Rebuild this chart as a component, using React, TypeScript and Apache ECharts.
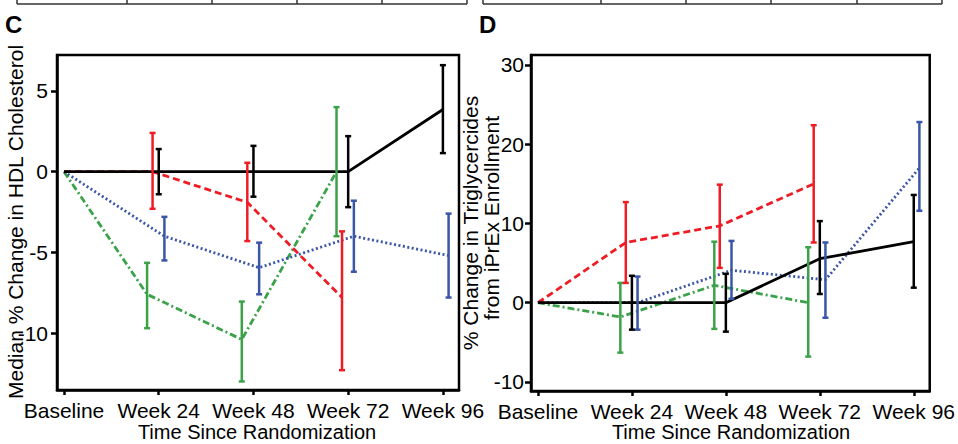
import React, { useEffect, useRef } from "react";
import * as echarts from "echarts";

const categories = ["Baseline", "Week 24", "Week 48", "Week 72", "Week 96"];
const yTicksC = [-10, -5, 0, 5];
const yTicksD = [-10, 0, 10, 20, 30];

// Panel C: Median % change in HDL cholesterol
const hdlBlack = [0, 0, 0, 0, 3.85];
const hdlBlackLow = [null, -1.4, -1.55, -2.2, 1.15];
const hdlBlackHigh = [null, 1.4, 1.6, 2.2, 6.6];
const hdlRed = [0, 0, -1.9, -7.8, null];
const hdlRedLow = [null, -2.3, -4.3, -12.3, null];
const hdlRedHigh = [null, 2.4, 0.55, -3.7, null];
const hdlGreen = [0, -7.6, -10.4, 0, null];
const hdlGreenLow = [null, -9.7, -13.0, -4.0, null];
const hdlGreenHigh = [null, -5.65, -8.05, 4.0, null];
const hdlBlue = [0, -4.0, -5.95, -4.0, -5.2];
const hdlBlueLow = [null, -5.5, -7.6, -6.2, -7.8];
const hdlBlueHigh = [null, -2.8, -4.4, -1.8, -2.6];

// Panel D: % change in triglycerides
const tgBlack = [0, 0, 0, 5.55, 7.7];
const tgBlackLow = [null, -3.4, -3.65, 1.1, 1.9];
const tgBlackHigh = [null, 3.4, 3.65, 10.3, 13.6];
const tgRed = [0, 7.6, 9.7, 15.0, null];
const tgRedLow = [null, 2.5, 4.4, 7.6, null];
const tgRedHigh = [null, 12.7, 14.9, 22.4, null];
const tgGreen = [0, -1.8, 2.2, 0, null];
const tgGreenLow = [null, -6.3, -3.3, -6.8, null];
const tgGreenHigh = [null, 2.5, 7.7, 7.0, null];
const tgBlue = [0, 0, 4.1, 2.9, 17.0];
const tgBlueLow = [null, -3.4, 0.5, -1.9, 11.6];
const tgBlueHigh = [null, 3.3, 7.8, 7.6, 22.8];

const FONT = "'Liberation Sans', Arial, Helvetica, sans-serif";
const RED = "#ee1d25";
const BLUE = "#3b56a6";
const GREEN = "#3ca24a";
const BLACK = "#000000";

const groups = [
  { color: GREEN, offset: -0.123, dash: [7, 3, 2, 3] as any },
  { color: RED, offset: -0.065, dash: [7, 4] as any },
  { color: BLUE, offset: 0.06, dash: [2, 2.5] as any },
  { color: BLACK, offset: 0, dash: "solid" as any },
];

function lineData(vals: (number | null)[], offset: number) {
  const out: number[][] = [];
  vals.forEach((v, i) => {
    if (v !== null) out.push([i === 0 ? 0 : i + offset, v]);
  });
  return out;
}

function barData(lo: (number | null)[], hi: (number | null)[], offset: number) {
  const out: number[][] = [];
  lo.forEach((l, i) => {
    const h = hi[i];
    if (l !== null && h !== null) out.push([i + offset, l, h]);
  });
  return out;
}

function errSeries(data: number[][], color: string, idx: number) {
  return {
    type: "custom",
    xAxisIndex: idx,
    yAxisIndex: idx,
    data,
    encode: { x: 0, y: [1, 2] },
    z: 5,
    renderItem: (params: any, api: any) => {
      const x = api.value(0);
      const p1 = api.coord([x, api.value(1)]);
      const p2 = api.coord([x, api.value(2)]);
      const w = 3;
      const st = { stroke: color, lineWidth: 2.5 };
      return {
        type: "group",
        children: [
          { type: "line", shape: { x1: p1[0], y1: p1[1], x2: p2[0], y2: p2[1] }, style: st },
          { type: "line", shape: { x1: p1[0] - w, y1: p1[1], x2: p1[0] + w, y2: p1[1] }, style: st },
          { type: "line", shape: { x1: p2[0] - w, y1: p2[1], x2: p2[0] + w, y2: p2[1] }, style: st },
        ],
      };
    },
  };
}

function lineSeries(data: number[][], color: string, dash: any, idx: number) {
  return {
    type: "line",
    xAxisIndex: idx,
    yAxisIndex: idx,
    data,
    showSymbol: false,
    symbol: "none",
    z: 3,
    lineStyle: { color, width: 2.8, type: dash },
  };
}

export default function App() {
  const ref = useRef<HTMLDivElement>(null);
  useEffect(() => {
    if (!ref.current) return;
    const chart = echarts.init(ref.current, null, { renderer: "svg" });

    const xAxisBase = (gi: number) => ({
      type: "value",
      gridIndex: gi,
      min: -0.074,
      max: 4.17,
      splitLine: { show: false },
      axisLine: { show: true, onZero: false, lineStyle: { color: BLACK, width: 2.5 } },
      axisTick: { show: true, customValues: [0, 1, 2, 3, 4], length: 5, lineStyle: { color: BLACK, width: 2.5 } },
      axisLabel: {
        customValues: [0, 1, 2, 3, 4],
        formatter: (v: number) => categories[Math.round(v)] ?? "",
        color: BLACK,
        fontSize: 21,
        fontFamily: FONT,
        margin: 10,
      },
    });
    const yAxisBase = (gi: number, min: number, max: number, ticks: number[], margin: number) => ({
      type: "value",
      gridIndex: gi,
      min,
      max,
      splitLine: { show: false },
      axisLine: { show: true, onZero: false, lineStyle: { color: BLACK, width: 2.5 } },
      axisTick: { show: true, customValues: ticks, length: 6, lineStyle: { color: BLACK, width: 2.5 } },
      axisLabel: {
        customValues: ticks,
        formatter: (v: number) => String(v),
        color: BLACK,
        fontSize: 21,
        fontFamily: FONT,
        margin,
      },
    });

    const hdlSets = [
      [hdlGreen, hdlGreenLow, hdlGreenHigh],
      [hdlRed, hdlRedLow, hdlRedHigh],
      [hdlBlue, hdlBlueLow, hdlBlueHigh],
      [hdlBlack, hdlBlackLow, hdlBlackHigh],
    ];
    const tgSets = [
      [tgGreen, tgGreenLow, tgGreenHigh],
      [tgRed, tgRedLow, tgRedHigh],
      [tgBlue, tgBlueLow, tgBlueHigh],
      [tgBlack, tgBlackLow, tgBlackHigh],
    ];

    const series: any[] = [];
    [hdlSets, tgSets].forEach((sets, gi) => {
      sets.forEach((s, k) => {
        const g = groups[k];
        series.push(lineSeries(lineData(s[0] as any, g.offset), g.color, g.dash, gi));
      });
      sets.forEach((s, k) => {
        const g = groups[k];
        series.push(errSeries(barData(s[1] as any, s[2] as any, g.offset), g.color, gi));
      });
    });

    const tableLine = { stroke: "#333", lineWidth: 1.5 };
    const leftCols = [17, 127, 212, 297, 382, 467];
    const rightCols = [483, 601, 686, 771, 857, 942];
    const tableEls: any[] = [];
    [leftCols, rightCols].forEach((cols) => {
      cols.forEach((x) => {
        tableEls.push({ type: "line", shape: { x1: x, y1: 0, x2: x, y2: 4 }, style: tableLine });
      });
      tableEls.push({ type: "line", shape: { x1: cols[0], y1: 4, x2: cols[cols.length - 1], y2: 4 }, style: tableLine });
    });

    const textStyle = (text: string, size = 21, extra: any = {}) => ({
      text,
      fill: BLACK,
      font: `${size}px ${FONT}`,
      textAlign: "center",
      textVerticalAlign: "middle",
      ...extra,
    });

    chart.setOption({
      animation: false,
      backgroundColor: "#ffffff",
      grid: [
        { left: 57, top: 55, width: 402, height: 335, show: true, borderColor: BLACK, borderWidth: 2.5 },
        { left: 531, top: 55, width: 402, height: 336, show: true, borderColor: BLACK, borderWidth: 2.5 },
      ],
      xAxis: [xAxisBase(0), xAxisBase(1)],
      yAxis: [yAxisBase(0, -13.53, 7.23, yTicksC, 9), yAxisBase(1, -11.14, 31.26, yTicksD, 7)],
      series,
      graphic: [
        ...tableEls,
        { type: "text", left: 5, top: 12, style: { text: "C", fill: BLACK, font: `bold 24px ${FONT}` } },
        { type: "text", left: 479, top: 12, style: { text: "D", fill: BLACK, font: `bold 24px ${FONT}` } },
        { type: "text", x: 15, y: 222, rotation: Math.PI / 2, style: textStyle("Median % Change in HDL Cholesterol") },
        { type: "text", x: 470, y: 223, rotation: Math.PI / 2, style: textStyle("% Change in Triglycercides") },
        { type: "text", x: 491, y: 218, rotation: Math.PI / 2, style: textStyle("from iPrEx Enrollment") },
        { type: "text", x: 257, y: 432, style: textStyle("Time Since Randomization", 20) },
        { type: "text", x: 731, y: 432, style: textStyle("Time Since Randomization", 20) },
      ],
    });
    return () => chart.dispose();
  }, []);
  return (
    <div
      ref={ref}
      style={{ position: "absolute", left: 0, top: 0, width: 958, height: 444, background: "#fff" }}
    />
  );
}
